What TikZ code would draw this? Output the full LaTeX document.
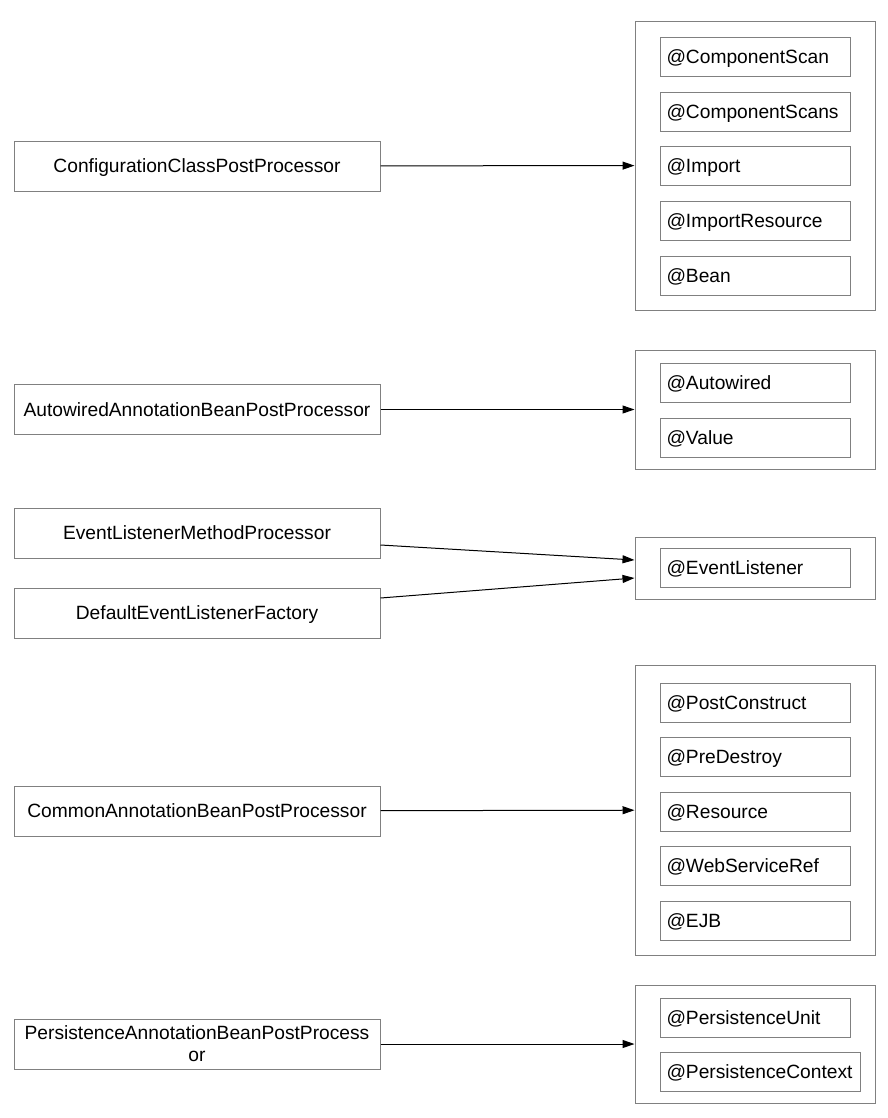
\documentclass[tikz,border=0pt]{standalone}
\usepackage{fontspec}
\setmainfont{Liberation Sans}
\usetikzlibrary{arrows.meta}
\definecolor{boxgray}{RGB}{128,128,128}

\tikzset{every picture/.style={line width=0.75pt}}
\tikzset{
	oneline/.style={text height=10.3pt, text depth=0pt},
	procbox/.style={draw=boxgray, minimum width=274.5pt, minimum height=37.5pt, align=center, inner sep=2pt, font=\fontsize{14.4}{16.5}\selectfont},
	groupbox/.style={draw=boxgray, minimum width=180pt},
	annobox/.style={draw=boxgray, anchor=west, text width=133.5pt, inner xsep=4.5pt, minimum height=29.25pt, align=left, oneline, font=\fontsize{14.4}{16.5}\selectfont},
	arr/.style={-{Triangle[length=9pt,width=6pt]}, black}
}

\begin{document}
\begin{tikzpicture}[x=0.75pt,y=0.75pt,yscale=-1,xscale=1]
	\useasboundingbox (0,0) rectangle (888,1118);

	% Processors
	\node (cfg) [procbox, oneline] at (197,166) {ConfigurationClassPostProcessor};
	\node (autow) [procbox, oneline] at (197,409.5) {AutowiredAnnotationBeanPostProcessor};
	\node (evmeth) [procbox, oneline] at (197,533) {EventListenerMethodProcessor};
	\node (evfact) [procbox, oneline] at (197,613) {DefaultEventListenerFactory};
	\node (common) [procbox, oneline] at (197,811) {CommonAnnotationBeanPostProcessor};
	\node (persist) [procbox] at (197,1044) {PersistenceAnnotationBeanPostProcess\\or};

	% Groups
	\node (g1) [groupbox, minimum height=216.75pt] at (755,165.5) {};
	\node (g2) [groupbox, minimum height=89.25pt] at (755,409.5) {};
	\node (g3) [groupbox, minimum height=46.5pt] at (755,568) {};
	\node (g4) [groupbox, minimum height=217.5pt] at (755,810) {};
	\node (g5) [groupbox, minimum height=88.5pt] at (755,1044) {};

	% Annotations
	\node (cscan) [annobox] at (660,56.5) {@ComponentScan};
	\node (cscans) [annobox] at (660,111.5) {@ComponentScans};
	\node (imp) [annobox] at (660,166) {@Import};
	\node (impres) [annobox] at (660,220.5) {@ImportResource};
	\node (bean) [annobox] at (660,275.5) {@Bean};

	\node (awired) [annobox] at (660,382.5) {@Autowired};
	\node (val) [annobox] at (660,437.5) {@Value};

	\node (evlist) [annobox] at (660,567.5) {@EventListener};

	\node (postc) [annobox] at (660,702.5) {@PostConstruct};
	\node (pred) [annobox] at (660,756.5) {@PreDestroy};
	\node (res) [annobox] at (660,811.5) {@Resource};
	\node (wsref) [annobox] at (660,865.5) {@WebServiceRef};
	\node (ejb) [annobox] at (660,920.5) {@EJB};

	\node (punit) [annobox] at (660,1017.5) {@PersistenceUnit};
	\node (pctx) [annobox, text width=141pt] at (660,1071.5) {@PersistenceContext};

	% Arrows
	\draw [arr] (cfg) -- (g1);
	\draw [arr] (autow) -- (g2);
	\draw [arr] ([yshift=9pt]evmeth.east) -- ([yshift=-6pt]g3.west);
	\draw [arr] ([yshift=-11.25pt]evfact.east) -- ([yshift=7.5pt]g3.west);
	\draw [arr] (common) -- (g4);
	\draw [arr] (persist) -- (g5);

\end{tikzpicture}
\end{document}
